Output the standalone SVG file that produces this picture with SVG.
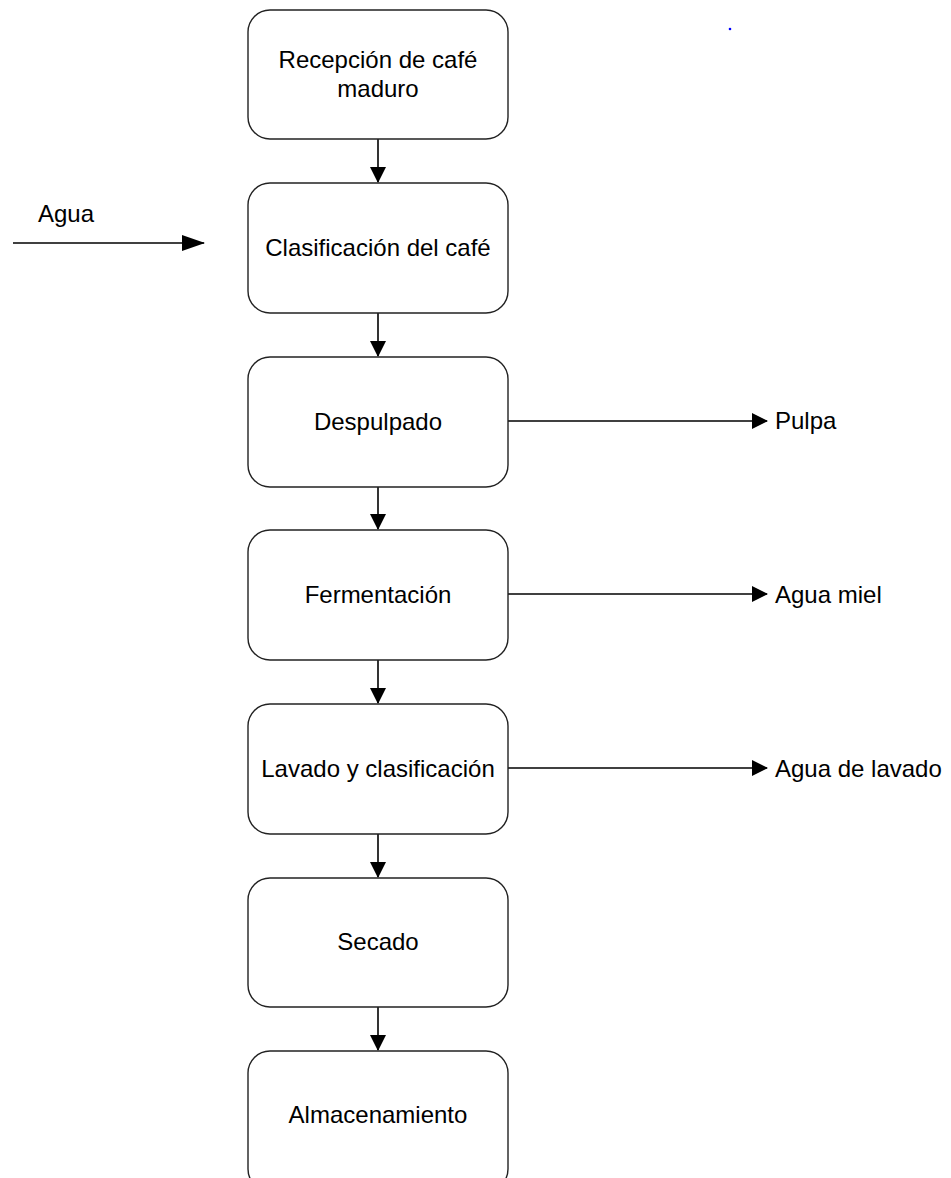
<svg xmlns="http://www.w3.org/2000/svg" width="951" height="1178" viewBox="0 0 951 1178">
<style>
.box{fill:#fff;stroke:#222;stroke-width:1.4}
.t{font-family:"Liberation Sans",Arial,sans-serif;font-size:24px;fill:#000;text-anchor:middle}
.l{font-family:"Liberation Sans",Arial,sans-serif;font-size:24px;fill:#000}
.c{stroke:#000;stroke-width:1.6;fill:none}
</style>
<defs>
<marker id="ahb" markerWidth="16" markerHeight="16" refX="15" refY="8" orient="auto" markerUnits="userSpaceOnUse" viewBox="0 0 16 16">
<path d="M0,0 L16,8 L0,16 z" fill="#000"/>
</marker>
<marker id="ahw" markerWidth="23" markerHeight="16" refX="22" refY="8" orient="auto" markerUnits="userSpaceOnUse" viewBox="0 0 23 16">
<path d="M0,0 L23,8 L0,16 z" fill="#000"/>
</marker>
</defs>
<rect width="951" height="1178" fill="#fff"/>
<circle cx="730" cy="29" r="1.3" fill="#0000ff"/>
<g id="connectors">
<line class="c" x1="378" y1="139" x2="378" y2="182" marker-end="url(#ahb)"/>
<line class="c" x1="378" y1="313" x2="378" y2="356" marker-end="url(#ahb)"/>
<line class="c" x1="378" y1="487" x2="378" y2="529" marker-end="url(#ahb)"/>
<line class="c" x1="378" y1="660" x2="378" y2="703" marker-end="url(#ahb)"/>
<line class="c" x1="378" y1="834" x2="378" y2="877" marker-end="url(#ahb)"/>
<line class="c" x1="378" y1="1007" x2="378" y2="1050" marker-end="url(#ahb)"/>
<line class="c" x1="13" y1="243" x2="204" y2="243" marker-end="url(#ahw)"/>
<line class="c" x1="508" y1="421" x2="767" y2="421" marker-end="url(#ahb)"/>
<line class="c" x1="508" y1="594" x2="767" y2="594" marker-end="url(#ahb)"/>
<line class="c" x1="508" y1="768" x2="767" y2="768" marker-end="url(#ahb)"/>
</g>
<g id="n1"><rect class="box" x="248" y="10" width="260" height="129" rx="22"/><text class="t" x="378" y="68">Recepción de café</text><text class="t" x="378" y="97">maduro</text></g>
<g id="n2"><rect class="box" x="248" y="183" width="260" height="130" rx="22"/><text class="t" x="378" y="256">Clasificación del café</text></g>
<g id="n3"><rect class="box" x="248" y="357" width="260" height="130" rx="22"/><text class="t" x="378" y="430">Despulpado</text></g>
<g id="n4"><rect class="box" x="248" y="530" width="260" height="130" rx="22"/><text class="t" x="378" y="603">Fermentación</text></g>
<g id="n5"><rect class="box" x="248" y="704" width="260" height="130" rx="22"/><text class="t" x="378" y="777">Lavado y clasificación</text></g>
<g id="n6"><rect class="box" x="248" y="878" width="260" height="129" rx="22"/><text class="t" x="378" y="950">Secado</text></g>
<g id="n7"><rect class="box" x="248" y="1051" width="260" height="140" rx="22"/><text class="t" x="378" y="1123">Almacenamiento</text></g>
<g id="labels">
<text class="l" x="38" y="222">Agua</text>
<text class="l" x="775" y="429">Pulpa</text>
<text class="l" x="775" y="603">Agua miel</text>
<text class="l" x="775" y="777">Agua de lavado</text>
</g>
</svg>
